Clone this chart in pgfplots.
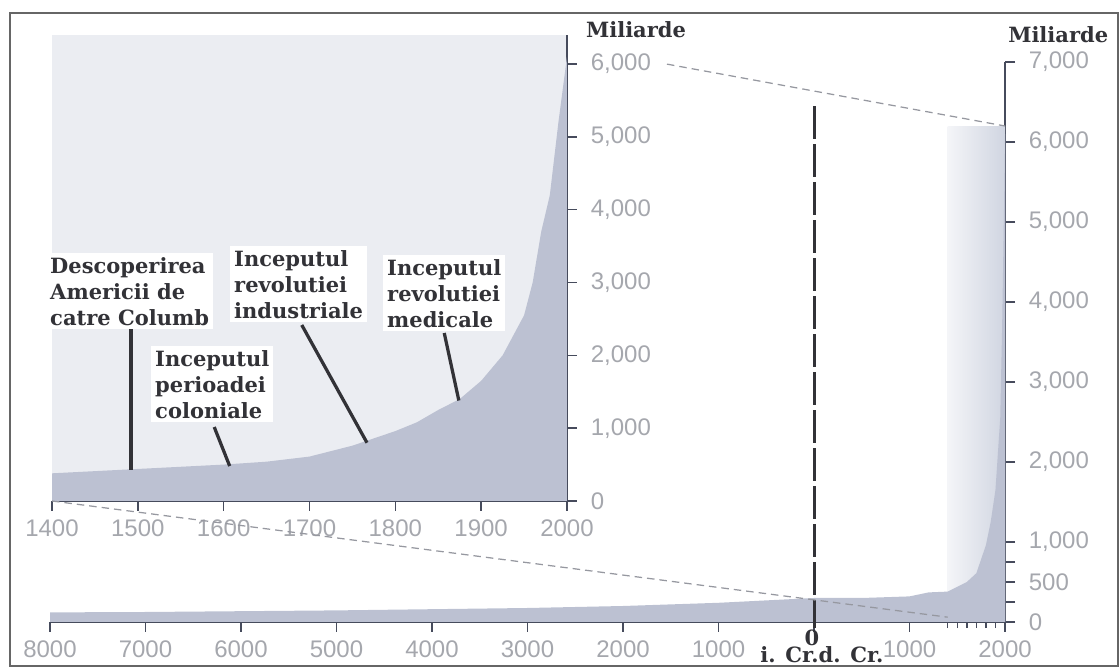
\documentclass[border=0pt]{standalone}
\usepackage{pgfplots}
\pgfplotsset{compat=1.18}
\usepackage{pgfplotstable}
\usepackage{fontspec}
\setmainfont{DejaVu Serif}
\newfontfamily\tickfont{Liberation Sans}
\definecolor{areafill}{RGB}{188,193,210}
\definecolor{insetbg}{RGB}{235,237,242}
\definecolor{hlA}{RGB}{244,245,248}
\definecolor{hlB}{RGB}{208,213,225}
\definecolor{axcol}{RGB}{70,75,92}
\definecolor{txtcol}{RGB}{50,50,55}
\definecolor{tickcol}{RGB}{165,167,173}
\definecolor{dashcol}{RGB}{150,152,160}

\pgfplotstableread{
year pop
-8000 120
-7000 125
-6000 135
-5000 145
-4000 160
-3000 175
-2000 200
-1000 240
0 300
500 300
1000 320
1200 370
1400 380
1500 440
1600 500
1700 610
1800 960
1850 1250
1900 1650
1950 2550
1970 3700
1990 5200
2000 6100
}\maindata

\pgfplotstableread{
year pop
1400 380
1450 410
1500 440
1550 470
1600 500
1650 540
1700 610
1750 760
1800 960
1825 1080
1850 1250
1875 1400
1900 1650
1925 2000
1950 2550
1960 3000
1970 3700
1980 4200
1990 5200
2000 6100
}\insetdata

\pgfplotstableread{
year pop
1400 6200
2000 6200
}\zoomrect

\newcommand\pxc[2]{({(#1)*0.4pt},{(669-(#2))*0.4pt})}

\tikzset{
  annot/.style={txtcol, line width=1.3pt},
  lbl/.style={font=\bfseries\fontsize{8.4}{10.4}\selectfont, text=txtcol, align=left, fill=white, inner sep=1.5pt, anchor=north west},
}
\pgfplotsset{
  common/.style={
    scale only axis, anchor=south west,
    axis x line*=bottom, axis y line*=right,
    axis line style={axcol, line width=1.1pt},
    tick align=outside, major tick length=4pt, minor tick length=2.5pt,
    every tick/.style={axcol, line width=0.6pt},
    tick label style={font=\tickfont\fontsize{9.6}{11}\selectfont, text=tickcol},
    yticklabel style={xshift=2pt},
    /pgf/number format/assume math mode=true,
    clip=false,
  },
}

\begin{document}
\begin{tikzpicture}
\useasboundingbox (0,0) rectangle (448pt,267.6pt);
\draw[line width=1pt, color=black!60] \pxc{10}{13} rectangle \pxc{1118}{666};

\begin{axis}[common,
  at={(20pt,18.8pt)}, width=382pt, height=224pt,
  xmin=-8000, xmax=2000, ymin=0, ymax=7000,
  xtick={-8000,-7000,...,2000},
  xticklabels={8000,7000,6000,5000,4000,3000,2000,1000,,1000,2000},
  minor xtick={1400,1500,...,1900},
  ytick={0,250,500,750,1000,2000,3000,4000,5000,6000,7000},
  yticklabels={0,,500,,{1,000},{2,000},{3,000},{4,000},{5,000},{6,000},{7,000}},
]
\addplot[draw=none, left color=hlA, right color=hlB] table[x=year,y=pop]{\zoomrect} \closedcycle;
\addplot[draw=none, fill=areafill] table[x=year,y=pop]{\maindata} \closedcycle;
\draw[txtcol, line width=1.2pt, dash pattern=on 13pt off 2.2pt] (axis cs:0,6450) -- (axis cs:0,-80);
\coordinate (mainTR) at (axis cs:2000,6200);
\coordinate (mainBL) at (axis cs:1400,60);
\end{axis}

\begin{axis}[common,
  at={(20.8pt,67.2pt)}, width=206pt, height=186.4pt,
  xmin=1400, xmax=2000, ymin=0, ymax=6400,
  axis background/.style={fill=insetbg},
  xtick={1400,1500,...,2000},
  xticklabels={1400,1500,1600,1700,1800,1900,2000},
  ytick={0,1000,...,6000},
  yticklabels={0,{1,000},{2,000},{3,000},{4,000},{5,000},{6,000}},
]
\addplot[draw=none, fill=areafill] table[x=year,y=pop]{\insetdata} \closedcycle;
\draw[annot] (axis cs:1492,2420) -- (axis cs:1492,430);
\draw[annot] (axis cs:1589,1016) -- (axis cs:1607,480);
\draw[annot] (axis cs:1691,2417) -- (axis cs:1767,800);
\draw[annot] (axis cs:1857,2307) -- (axis cs:1874,1380);
\coordinate (insetBL) at (axis cs:1400,0);
\coordinate (insetTR) at ([xshift=40pt]axis cs:2000,6000);
\end{axis}

\draw[dashcol, densely dashed, line width=0.5pt] (insetTR) -- (mainTR);
\draw[dashcol, densely dashed, line width=0.5pt] (insetBL) -- (mainBL);

\node[lbl] at \pxc{46}{253} {Descoperirea\\Americii de\\catre Columb};
\node[lbl] at \pxc{230}{246} {Inceputul\\revolutiei\\industriale};
\node[lbl] at \pxc{383}{255} {Inceputul\\revolutiei\\medicale};
\node[lbl] at \pxc{151}{346} {Inceputul\\perioadei\\coloniale};

\node[font=\bfseries\fontsize{8.4}{10}\selectfont, text=txtcol] at \pxc{636}{30} {Miliarde};
\node[font=\bfseries\fontsize{8.4}{10}\selectfont, text=txtcol, anchor=east] at \pxc{1117}{35} {Miliarde};
\node[font=\bfseries\fontsize{8.4}{10}\selectfont, text=txtcol] at \pxc{812}{638} {0};
\node[font=\bfseries\fontsize{8.4}{10}\selectfont, text=txtcol] at \pxc{822}{655} {i. Cr.d. Cr.};
\end{tikzpicture}
\end{document}
